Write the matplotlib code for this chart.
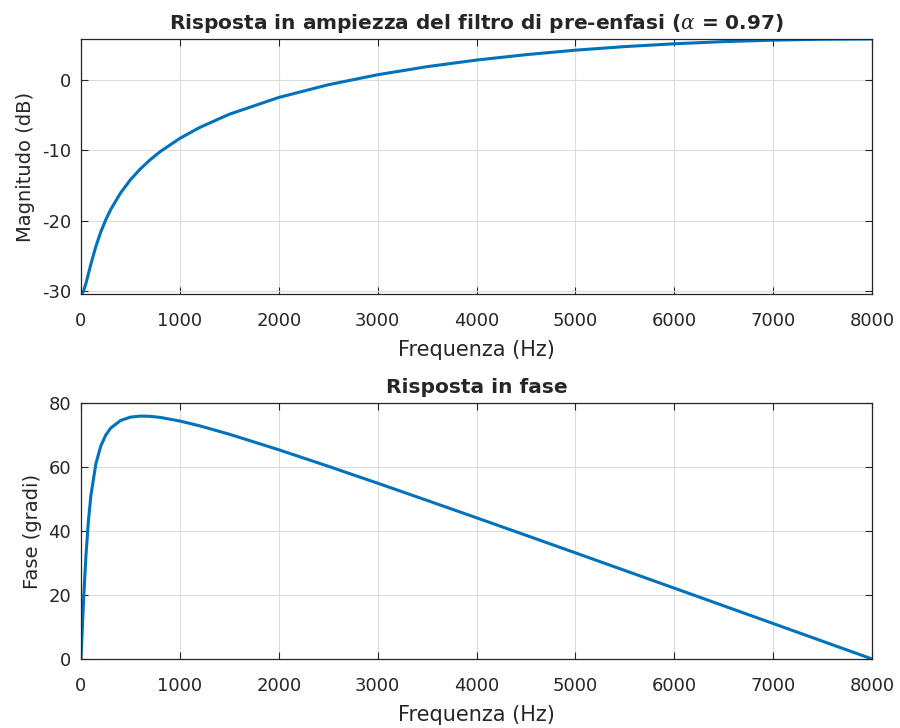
import matplotlib
matplotlib.use("Agg")
import matplotlib.pyplot as plt

# frequencies (Hz) and values
freq = [0, 10, 20, 30, 50, 75, 100, 150, 200, 250, 300, 400, 500, 600, 700, 800,
        1000, 1200, 1500, 2000, 2500, 3000, 3500, 4000, 4500, 5000, 5500, 6000,
        6500, 7000, 7500, 8000]
mag_db = [-30.46, -30.39, -30.18, -29.85, -28.95, -27.59, -26.21, -23.70, -21.62,
          -19.90, -18.43, -16.06, -14.18, -12.64, -11.32, -10.18, -8.28, -6.73,
          -4.84, -2.45, -0.64, 0.79, 1.94, 2.88, 3.65, 4.29, 4.80, 5.20, 5.51,
          5.72, 5.85, 5.89]
phase_deg = [0.0, 7.23, 14.23, 20.81, 32.24, 43.20, 51.08, 60.97, 66.56, 69.96,
             72.15, 74.55, 75.59, 75.92, 75.84, 75.51, 74.37, 72.87, 70.25, 65.39,
             60.24, 54.94, 49.56, 44.13, 38.66, 33.17, 27.66, 22.14, 16.61, 11.08,
             5.54, 0.0]

xticks = [0, 1000, 2000, 3000, 4000, 5000, 6000, 7000, 8000]

plt.rcParams['font.family'] = ['DejaVu Sans']
plt.rcParams['axes.unicode_minus'] = False
plt.rcParams['mathtext.fontset'] = 'custom'
plt.rcParams['mathtext.it'] = 'DejaVu Serif:italic'

line_col = '#0072BD'
txt_col = '#262626'

fig = plt.figure(figsize=(9, 7.28), dpi=100)
ax1 = fig.add_axes([0.09, 0.5962, 0.879, 0.3503])
ax2 = fig.add_axes([0.09, 0.0948, 0.879, 0.3516])


def style(ax):
    ax.grid(True, color='#dcdcdc', linewidth=0.8)
    ax.set_axisbelow(True)
    ax.tick_params(direction='in', top=True, right=True, length=5,
                   labelsize=13, colors=txt_col, width=0.8)
    ax.tick_params(axis='x', pad=13)
    ax.tick_params(axis='y', pad=7)
    for s in ax.spines.values():
        s.set_color(txt_col)
        s.set_linewidth(0.9)
    ax.set_xticks(xticks)
    ax.set_xlim(0, 8000)
    ax.set_xlabel('Frequenza (Hz)', fontsize=15, color=txt_col, labelpad=7.5)


ax1.plot(freq, mag_db, color=line_col, linewidth=2.2)
style(ax1)
ax1.set_ylim(min(mag_db), max(mag_db))
ax1.set_yticks([-30, -20, -10, 0])
ax1.set_ylabel('Magnitudo (dB)', fontsize=14, color=txt_col, labelpad=5)
ax1.set_title(r'Risposta in ampiezza del filtro di pre-enfasi ($\alpha$ = 0.97)',
              fontsize=14.5, fontweight='bold', color=txt_col, pad=7)

ax2.plot(freq, phase_deg, color=line_col, linewidth=2.2)
style(ax2)
ax2.set_ylim(0, 80)
ax2.set_yticks([0, 20, 40, 60, 80])
ax2.set_ylabel('Fase (gradi)', fontsize=14, color=txt_col, labelpad=5)
ax2.set_title('Risposta in fase', fontsize=14.5, fontweight='bold',
              color=txt_col, pad=7)

fig.savefig('out.png', dpi=100, facecolor='white')
